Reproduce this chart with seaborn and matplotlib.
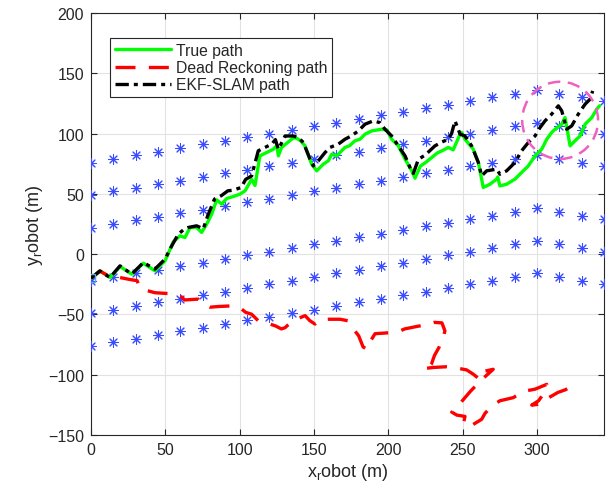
import numpy as np
import pandas as pd
import matplotlib
matplotlib.use("Agg")
import matplotlib.pyplot as plt
import seaborn as sns
from matplotlib.patches import Ellipse

# ---------------- data ----------------
landmark_x = [0, 15, 30, 45, 60, 75, 90, 105, 120, 135, 150, 165, 180, 195,
              210, 225, 240, 255, 270, 285, 300, 315, 330, 345]
landmark_row1 = [76, 79, 82, 85, 88, 91, 94, 97, 100, 103, 106, 109, 112, 115,
                 118, 121, 124, 127, 130, 133, 136, 133, 130, 127]
landmark_row2 = [49, 52, 55, 58, 61, 64, 67, 70, 73, 76, 79, 82, 85, 88,
                 91, 94, 97, 100, 103, 106, 109, 106, 103, 100]
landmark_row3 = [22, 25, 28, 31, 34, 37, 40, 43, 46, 49, 52, 55, 58, 61,
                 64, 67, 70, 73, 76, 79, 82, 79, 76, 73]
landmark_row4 = [-22, -19, -16, -13, -10, -7, -4, -1, 2, 5, 8, 11, 14, 17,
                 20, 23, 26, 29, 32, 35, 38, 35, 32, 29]
landmark_row5 = [-49, -46, -43, -40, -37, -34, -31, -28, -25, -22, -19, -16, -13, -10,
                 -7, -4, -1, 2, 5, 8, 11, 8, 5, 2]
landmark_row6 = [-76, -73, -70, -67, -64, -61, -58, -55, -52, -49, -46, -43, -40, -37,
                 -34, -31, -28, -25, -22, -19, -16, -19, -22, -25]

true_x = [0, 6, 12.8, 19.5, 27.4, 35.2, 43, 49.8, 55.4, 59.9, 63.2, 66.6, 71.1, 74.4,
          77.8, 81.2, 84.5, 87.9, 91.3, 95.7, 100.2, 103.6, 108, 110.3, 113.6, 116,
          122.6, 125, 126, 128.2, 134.9, 137.2, 139.4, 141, 143.9, 148.4, 151.8,
          156.2, 159.6, 161.9, 165.2, 170.8, 174, 177.5, 180.9, 184.3, 188.8, 195.5,
          199, 202.2, 206.7, 211.2, 215.7, 217.9, 221.5, 225, 229, 233, 236, 240.3,
          243.6, 248.2, 249.3, 251.5, 257.1, 260.5, 263.8, 268.3, 272.8, 273.5, 275,
          279.5, 285.1, 289.6, 294.1, 298.6, 303.1, 306.5, 309.8, 312.1, 316.6,
          318.8, 322.2, 325.5, 328.9, 332.3, 336.8, 340.1, 342]
true_y = [-20, -13.8, -19.4, -10.2, -16.6, -7.5, -13.8, -5.5, 10.3, 15.2, 13.8, 22.1,
          22.1, 18, 24.9, 33.2, 45, 41.5, 46.2, 47.8, 49.8, 52.5, 62, 57, 81.5, 83,
          87, 90, 81.5, 88.5, 95.3, 96.7, 95.3, 94, 89.8, 74.6, 69.1,
          74.6, 77.4, 82.9, 81.5, 88.5, 90, 94, 95.3, 99.5, 102.2, 103.6,
          103, 95.3, 89.8, 78.8, 69.1, 63, 73, 76, 80, 84, 85.7, 88.5,
          86.5, 99.5, 100.9, 95.3, 87, 76, 55.3, 58, 62.2, 64, 56.6,
          58, 62.2, 67.7, 73.2, 81.5, 87, 95.3, 100.9, 103.6, 107.8,
          113.3, 89.8, 94, 98, 107.8, 113.3, 120.2, 123]

dr_x = [0, 6, 13, 19.5, 26, 31, 33, 37, 43, 51, 57, 61, 63, 72, 75.5, 80, 86, 95,
        100, 104, 108, 112.5, 118, 124, 128, 130.5, 134, 138, 144, 147, 150.6, 154,
        160, 167.5, 173, 176.4, 180, 183, 186, 188, 191, 197, 202, 208, 211, 219,
        223.5, 231, 236, 238, 237, 234, 231, 229, 226, 223.5, 230, 239, 244, 252.6,
        257, 261.6, 265, 270.5, 262, 255, 251.5, 245, 242.6, 246, 251.5, 250.4, 256,
        262.7, 265, 269.5, 275, 284, 289.6, 293, 298.6, 306.5, 306.5, 301, 296.4,
        302, 306.5, 314, 319, 327]
dr_y = [-20, -14, -19, -19.4, -21, -22, -28, -30, -32, -32.6, -33, -35.6, -38, -37.3,
        -41.5, -44, -43.4, -42.9, -44.2, -48.3, -49.8, -55.3, -57, -59.5, -62, -61, -57,
        -54, -51, -55, -58, -54.5, -54, -54, -55.3, -62, -67.7, -77, -79, -72, -66,
        -65.5, -65, -63.6, -62, -60, -59, -56.6, -57, -63.6, -69, -77.4, -84, -91, -95,
        -95, -94, -93.4, -94, -96, -99.5, -104, -97, -95.5, -105, -114, -119, -128.5,
        -131, -133.5, -134.6, -141, -142, -137, -132, -126, -121.6, -119, -114.7,
        -113.3, -112, -108, -112, -121.6, -125.2, -124.4, -120, -114.7, -112.5, -107]

ekf_x = [0, 6, 12.8, 19.5, 27.4, 35.2, 43, 49.8, 54.3, 58.7, 62, 65.4, 71, 75.5, 78.5,
         83, 87.5, 92, 95.4, 101, 104, 108, 112.5, 117, 121.5, 124, 126, 130.5, 136,
         139.4, 142.8, 147.3, 149.5, 152.9, 157.4, 160.7, 166.3, 170.8, 175, 179.8,
         184.3, 189.8, 194.3, 197.7, 202.2, 206.7, 211.2, 214.5, 216.8, 220.2, 224.6,
         231.3, 236, 240.3, 242.5, 244.8, 248.2, 251.5, 256, 260.5, 262.7, 266.1,
         272.8, 275, 279.5, 285.1, 289.6, 294.1, 298.6, 302, 305.3, 309.8, 314.3,
         316.6, 319.9, 323.3, 327.7, 332.3, 335.6, 337.4]
ekf_y = [-20, -14, -19.4, -9.7, -16.6, -7, -12.4, -4.1, 6.9, 16.6, 20, 22.1, 23.5, 21,
         31.8, 45.6, 48.4, 52.5, 53, 55.3, 62, 64.9, 85.7, 88.5, 91.2, 95, 87, 98, 98,
         96.7, 92.6, 78.8, 73.2, 77.4, 84.3, 88.5, 91.2, 95.3, 98, 102.2,
         107.8, 110.5, 109.1, 103.6, 98, 89.8, 81.5, 71.9, 67, 78.8, 82,
         89.8, 93, 95.3, 100, 110.5, 99.5, 98, 89.8, 76, 64.9, 69.1,
         70.5, 66.3, 69.1, 76, 85.7, 92.6, 98, 105, 110.5, 116.1, 123,
         118.8, 103.6, 106.4, 116.1, 124.4, 128.5, 135.4]

x_ticks = [0, 50, 100, 150, 200, 250, 300]
y_ticks = [-150, -100, -50, 0, 50, 100, 150, 200]

# ---------------- style ----------------
sns.set_style("whitegrid")
plt.rcParams["font.family"] = ["Liberation Sans", "DejaVu Sans"]
plt.rcParams["mathtext.fontset"] = "custom"
plt.rcParams["mathtext.rm"] = "Liberation Sans"
plt.rcParams["mathtext.it"] = "Liberation Sans"
plt.rcParams["axes.unicode_minus"] = True

fig = plt.figure(figsize=(6.09, 4.85), dpi=100)
ax = fig.add_axes([91 / 609, 49 / 485, 513 / 609, 422 / 485])

# landmarks
lm = pd.DataFrame({
    "x": landmark_x * 6,
    "y": landmark_row1 + landmark_row2 + landmark_row3 + landmark_row4 + landmark_row5 + landmark_row6,
})
sns.scatterplot(data=lm, x="x", y="y", ax=ax, marker=(8, 2, 0), s=50,
                color="#3a4cff", linewidth=0.75, zorder=3, legend=False)

true_df = pd.DataFrame({"x": true_x, "y": true_y})
dr_df = pd.DataFrame({"x": dr_x, "y": dr_y})
ekf_df = pd.DataFrame({"x": ekf_x, "y": ekf_y})

sns.lineplot(data=true_df, x="x", y="y", ax=ax, sort=False, estimator=None,
             color="#00ff00", linewidth=2.4, label="True path", zorder=4)
sns.lineplot(data=dr_df, x="x", y="y", ax=ax, sort=False, estimator=None,
             color="#ff0000", linewidth=2.4, label="Dead Reckoning path", zorder=4,
             dashes=False)
ax.lines[-1].set_dashes([6, 4])
sns.lineplot(data=ekf_df, x="x", y="y", ax=ax, sort=False, estimator=None,
             color="black", linewidth=2.4, label="EKF-SLAM path", zorder=5)
ax.lines[-1].set_dashes([4, 1.5, 1.2, 1.5])

# start marker
ax.plot([0], [-20], marker="s", markersize=6, markerfacecolor="none",
        markeredgecolor="#5aa6e6", linestyle="none", zorder=6)

# highlight ellipse
ell = Ellipse((315.5, 111), width=51, height=64, fill=False, edgecolor="#f060c0",
              linestyle=(0, (5, 3)), linewidth=1.8, zorder=6)
ax.add_patch(ell)

ax.set_xlim(0, 345)
ax.set_ylim(-150, 200)
ax.set_xticks(x_ticks)
ax.set_yticks(y_ticks)
ax.grid(True, color="#e2e2e2", linewidth=0.8)
ax.set_axisbelow(True)
for sp in ax.spines.values():
    sp.set_color("#262626")
    sp.set_linewidth(0.8)
ax.tick_params(direction="in", length=4, width=0.8, colors="#262626",
               labelsize=11.5, top=True, right=True, bottom=True, left=True,
               labelcolor="#262626", pad=5)

ax.set_xlabel(r"x$_{\mathrm{r}}$obot (m)", fontsize=13, color="#262626", labelpad=3)
ax.set_ylabel(r"y$_{\mathrm{r}}$obot (m)", fontsize=13, color="#262626", labelpad=2)

leg = ax.legend(loc="upper left", bbox_to_anchor=(19 / 513, 1 - 25 / 422),
                fontsize=11.3, frameon=True, fancybox=False, edgecolor="#262626",
                framealpha=1, handlelength=3.6, borderpad=0.3, labelspacing=0.15,
                handletextpad=0.3, borderaxespad=0)
leg.get_frame().set_linewidth(0.8)

fig.savefig("out.png", dpi=100)
